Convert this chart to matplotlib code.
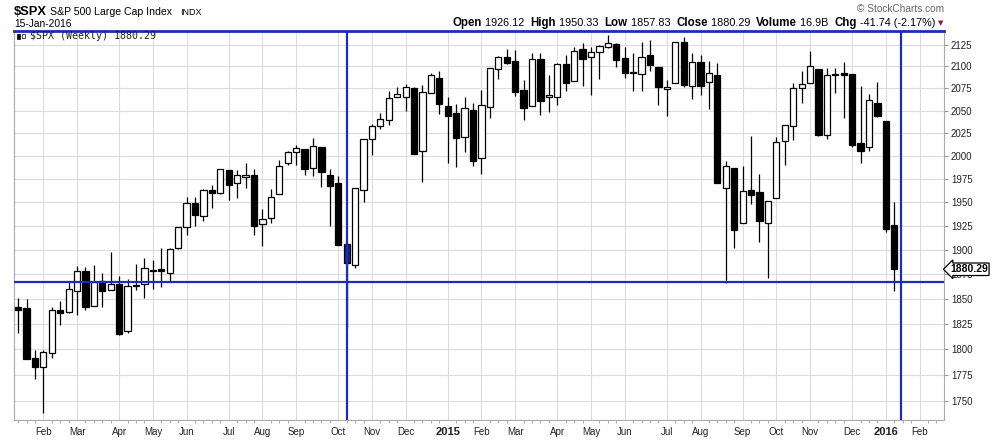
import numpy as np
import pandas as pd
import matplotlib
matplotlib.use('Agg')
import matplotlib.pyplot as plt
from matplotlib.transforms import blended_transform_factory
from matplotlib.ticker import FixedLocator, FixedFormatter, NullLocator
from matplotlib.patches import Rectangle

# weekly $SPX candles, first week starts Mon 13-Jan-2014
first_week = '2014-01-13'
opens = [1842.4, 1841.4, 1791.3, 1782.5, 1796.2, 1839.0, 1836.7, 1857.9, 1878.7, 1842.7,
         1868.4, 1858.9, 1865.0, 1817.6, 1864.7, 1865.0, 1879.7, 1880.3, 1876.9, 1901.9,
         1923.8, 1949.1, 1935.7, 1962.9, 1960.5, 1984.4, 1970.4, 1976.8, 1979.0, 1926.9,
         1933.2, 1958.6, 1992.0, 2003.9, 2007.6, 1986.6, 2009.8, 1979.0, 1970.4, 1905.9,
         1885.0, 1962.9, 2018.5, 2032.5, 2039.6, 2065.7, 2065.7, 2075.2, 2005.0, 2069.5,
         2087.4, 2055.3, 2047.0, 2021.3, 2050.7, 1997.4, 2053.8, 2096.6, 2110.4, 2106.3,
         2073.3, 2055.5, 2108.1, 2064.9, 2064.9, 2102.7, 2083.8, 2120.1, 2110.4, 2116.2,
         2122.0, 2125.8, 2109.3, 2094.1, 2091.8, 2113.1, 2099.3, 2074.1, 2080.7, 2127.7,
         2078.1, 2104.6, 2082.6, 2090.2, 1965.0, 1986.9, 1928.0, 1963.3, 1960.8, 1928.7,
         1954.3, 2016.3, 2032.9, 2075.2, 2080.7, 2097.1, 2022.7, 2091.3, 2092.1, 2091.3,
         2014.1, 2010.2, 2058.6, 2038.5, 1926.12]
highs = [1850.8, 1850.0, 1799.4, 1799.4, 1842.4, 1848.1, 1868.4, 1883.9, 1882.9, 1884.9,
         1876.3, 1898.5, 1873.5, 1870.8, 1885.9, 1891.7, 1890.0, 1901.9, 1901.9, 1924.5,
         1956.1, 1955.4, 1964.3, 1968.6, 1986.2, 1985.1, 1984.8, 1992.0, 1985.5, 1942.8,
         1964.3, 1995.6, 2005.4, 2012.0, 2007.6, 2019.3, 2009.8, 1985.5, 1978.3, 1907.0,
         1965.0, 2018.5, 2035.1, 2047.0, 2072.0, 2076.3, 2079.7, 2076.3, 2079.0, 2093.1,
         2094.6, 2065.3, 2057.5, 2065.3, 2058.2, 2073.3, 2097.8, 2111.9, 2120.1, 2118.9,
         2084.5, 2115.8, 2115.8, 2090.2, 2103.5, 2113.1, 2122.0, 2126.6, 2122.7, 2124.7,
         2136.3, 2126.6, 2122.7, 2115.0, 2127.7, 2130.4, 2099.3, 2084.5, 2128.5, 2134.4,
         2115.0, 2113.1, 2105.8, 2103.5, 1994.5, 1986.9, 1989.1, 2021.9, 1980.4, 1951.1,
         2021.1, 2034.0, 2081.5, 2094.6, 2117.7, 2097.1, 2097.8, 2097.8, 2105.0, 2091.3,
         2077.8, 2068.7, 2082.2, 2038.5, 1950.33]
lows = [1815.9, 1790.3, 1770.9, 1738.5, 1792.0, 1824.1, 1835.8, 1834.1, 1839.0, 1842.7,
        1842.4, 1858.9, 1814.3, 1815.9, 1859.3, 1850.8, 1860.0, 1862.7, 1867.7, 1900.9,
        1915.8, 1925.2, 1930.8, 1944.5, 1958.6, 1952.6, 1955.0, 1965.7, 1916.1, 1904.6,
        1928.7, 1958.6, 1990.5, 1990.5, 1979.4, 1978.6, 1966.1, 1925.5, 1905.7, 1821.0,
        1881.6, 1950.8, 2001.0, 2029.6, 2034.4, 2065.7, 2049.6, 2002.5, 1972.2, 2069.5,
        2046.6, 1992.7, 1988.4, 2004.3, 1989.5, 1980.8, 2042.2, 2086.0, 2102.7, 2066.8,
        2040.0, 2055.5, 2045.5, 2048.8, 2055.9, 2072.0, 2083.8, 2078.1, 2067.9, 2086.0,
        2120.8, 2099.7, 2086.4, 2072.0, 2072.0, 2094.9, 2056.8, 2044.4, 2080.7, 2077.0,
        2063.1, 2067.9, 2052.2, 1971.2, 1866.0, 1902.5, 1928.0, 1948.7, 1908.8, 1871.8,
        1954.3, 1990.5, 2017.0, 2059.0, 2080.7, 2022.3, 2019.1, 2070.3, 2042.2, 2009.5,
        1992.7, 2005.8, 2043.3, 1918.5, 1857.83]
closes = [1839.0, 1790.3, 1782.5, 1797.1, 1838.8, 1836.4, 1860.0, 1878.7, 1841.7, 1867.0,
          1857.9, 1865.0, 1815.3, 1863.7, 1863.7, 1881.4, 1878.3, 1878.3, 1900.9, 1923.8,
          1949.7, 1936.4, 1963.3, 1960.5, 1985.5, 1968.3, 1979.0, 1979.0, 1925.5, 1932.2,
          1955.4, 1988.7, 2003.9, 2008.4, 1985.5, 2010.5, 1983.0, 1967.9, 1905.7, 1887.1,
          1965.0, 2018.5, 2032.9, 2040.7, 2063.8, 2068.4, 2076.3, 2002.5, 2070.7, 2090.1,
          2057.9, 2044.4, 2019.2, 2052.6, 1994.9, 2055.9, 2097.8, 2110.4, 2104.2, 2071.3,
          2053.4, 2108.1, 2061.1, 2067.6, 2102.7, 2081.5, 2118.1, 2108.9, 2116.2, 2123.5,
          2126.6, 2107.7, 2092.6, 2092.6, 2110.4, 2101.9, 2077.0, 2077.0, 2127.7, 2079.2,
          2104.6, 2078.1, 2092.7, 1971.2, 1988.7, 1921.4, 1961.9, 1958.2, 1930.8, 1951.1,
          2014.9, 2034.0, 2075.2, 2079.7, 2100.1, 2023.1, 2089.8, 2089.8, 2090.5, 2012.4,
          2005.8, 2061.5, 2044.4, 1922.4, 1880.29]

price_ticks = [1750, 1775, 1800, 1825, 1850, 1875, 1900, 1925, 1950, 1975,
               2000, 2025, 2050, 2075, 2100, 2125]
support_level = 1867.0
marker_weeks = [39, 104.8]
last_close = '1880.29'

BLUE = '#1f2db0'
GRID = '#dcdcdc'

o = np.array(opens); h = np.array(highs); l = np.array(lows); c = np.array(closes)
x = np.arange(len(o))
weeks = pd.date_range(first_week, periods=len(o) + 6, freq='W-MON')

plt.rcParams['font.family'] = ['Liberation Sans', 'DejaVu Sans']

fig = plt.figure(figsize=(9.97, 4.41), dpi=100)
ax = fig.add_axes([14.3 / 997, 1 - 420 / 441, (944 - 14.3) / 997, (420 - 31) / 441])
ax.set_yscale('log')
ax.set_xlim(-0.45, 109.9)
ax.set_ylim(1732.0, 2141.0)

# month grid / labels
mpos, mlab = [], []
for k in range(1, len(weeks)):
    if weeks[k].month != weeks[k - 1].month:
        mpos.append(k)
        mlab.append(str(weeks[k].year) if weeks[k].month == 1 else weeks[k].strftime('%b'))
ax.xaxis.set_major_locator(FixedLocator(mpos))
ax.xaxis.set_major_formatter(FixedFormatter(mlab))
ax.xaxis.set_minor_locator(FixedLocator(np.arange(0, 110)))
ax.tick_params(axis='x', which='major', length=0, pad=5, labelsize=7, labelcolor='#222222')
ax.tick_params(axis='x', which='minor', length=2, color='#999999', width=0.6)
for t in ax.get_xticklabels():
    if t.get_text().isdigit():
        t.set_fontweight('bold')
        t.set_fontsize(8)

ax.yaxis.tick_right()
ax.yaxis.set_major_locator(FixedLocator(price_ticks))
ax.yaxis.set_major_formatter(FixedFormatter([str(p) for p in price_ticks]))
ax.yaxis.set_minor_locator(NullLocator())
ax.tick_params(axis='y', which='major', length=3, pad=2, labelsize=7, color='#999999',
               labelcolor='#222222')

ax.grid(True, which='major', color=GRID, lw=0.8, zorder=0)
ax.set_axisbelow(True)
for s in ['left', 'right', 'bottom']:
    ax.spines[s].set_color('#aaaaaa')
    ax.spines[s].set_linewidth(0.8)
ax.spines['top'].set_color(BLUE)
ax.spines['top'].set_linewidth(2)

# candles
up = c >= o
fill = np.where(up, 'white', 'black').astype(object)
fill[marker_weeks[0]] = '#14237a'
ax.vlines(x, l, h, color='black', lw=0.9, zorder=2)
ax.bar(x, np.abs(c - o), bottom=np.minimum(o, c), width=0.74, color=list(fill),
       edgecolor='black', linewidth=0.9, zorder=3)

ax.axhline(support_level, color=BLUE, lw=1.6, zorder=5)
for wk in marker_weeks:
    ax.axvline(wk, color=BLUE, lw=1.6, zorder=5)

# last price tag (covers the 1875 label, as on the original)
tr = blended_transform_factory(ax.transAxes, ax.transData)
ax.text(1.0065, float(last_close), last_close, transform=tr, ha='left', va='center',
        fontsize=7.5, fontweight='bold', clip_on=False, zorder=10,
        bbox=dict(boxstyle='larrow,pad=0.12', fc='white', ec='black', lw=0.9))

# header
fig.text(14 / 997, 1 - 15 / 441, r'\$SPX', fontsize=9.3, fontweight='bold')
fig.text(49.5 / 997, 1 - 15 / 441, 'S&P 500 Large Cap Index', fontsize=7.6)
fig.text(180 / 997, 1 - 15 / 441, 'INDX', fontsize=6.5)
fig.text(14 / 997, 1 - 27 / 441, '15-Jan-2016', fontsize=7.4)
fig.text(944 / 997, 1 - 12.5 / 441, '\u00a9 StockCharts.com', fontsize=7.3, color='#666666',
         ha='right')

pieces = [('Open', True), (' 1926.12  ', False), ('High', True), (' 1950.33  ', False),
          ('Low', True), (' 1857.83  ', False), ('Close', True), (' 1880.29  ', False),
          ('Volume', True), (' 16.9B  ', False), ('Chg', True), (' -41.74 (-2.17%)', False)]
r = fig.canvas.get_renderer()
arts, total = [], 0
for txt, bold in pieces:
    t = fig.text(0, 1 - 26 / 441, txt, fontsize=8.3 if bold else 7.8,
                 fontweight='bold' if bold else 'normal')
    w = t.get_window_extent(r).width
    arts.append((t, w))
    total += w
xp = 935 - total
for t, w in arts:
    t.set_x(xp / 997)
    xp += w
fig.text(938 / 997, 1 - 25 / 441, '\u25bc', fontsize=5, color='#8b1a3a',
         family='DejaVu Sans')

# legend inside plot
fig.patches.append(Rectangle((17 / 997, 1 - 39 / 441), 3 / 997, 5 / 441,
                             transform=fig.transFigure, fc='black', ec='black', lw=0.5))
fig.patches.append(Rectangle((22 / 997, 1 - 38 / 441), 3 / 997, 4 / 441,
                             transform=fig.transFigure, fc='white', ec='black', lw=0.5))
fig.text(30 / 997, 1 - 39 / 441, '$SPX (Weekly) 1880.29', fontsize=7.2,
         family='DejaVu Sans Mono', color='#222222')

fig.savefig('out.png', dpi=100, facecolor='white')
